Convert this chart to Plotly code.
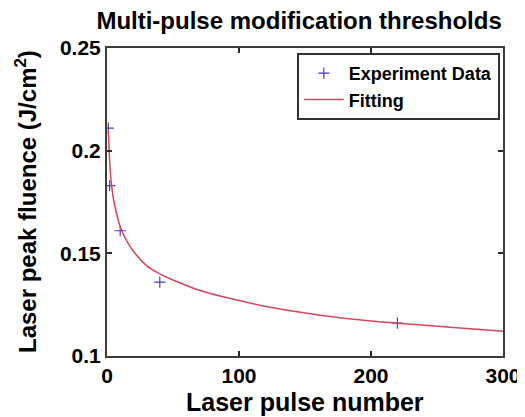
import plotly.graph_objects as go

# experiment data
pulse_n = [1, 2, 10, 40, 220]
fluence = [0.211, 0.183, 0.161, 0.136, 0.116]

# fitted curve, points
fit_n = [1, 2, 3, 5, 7, 10, 15, 20, 30, 40, 50, 70, 100, 130, 160, 200, 250, 300]
fit_f = [0.210, 0.195, 0.186, 0.176, 0.170, 0.163, 0.156, 0.151, 0.144, 0.140,
         0.137, 0.132, 0.127, 0.123, 0.120, 0.117, 0.1145, 0.112]

x_ticks = [0, 100, 200, 300]
y_ticks = [0.1, 0.15, 0.2, 0.25]

FONT = "Liberation Sans, Arial, sans-serif"

# the page body adds an 8px margin, so the figure is sized 8px smaller
W, H = 517, 409
ML, MR, MT, MB = 99, 22, 40, 61
plot_w = W - ML - MR
plot_h = H - MT - MB

fig = go.Figure()
fig.add_trace(go.Scatter(
    x=pulse_n, y=fluence, mode="markers", name="Experiment Data",
    marker=dict(symbol="cross-thin", size=8, color="rgb(70,60,200)",
                line=dict(color="rgb(70,60,200)", width=1.2)),
))
fig.add_trace(go.Scatter(
    x=fit_n, y=fit_f, mode="lines", name="Fitting",
    line=dict(color="rgb(215,70,90)", width=1.5, shape="spline", smoothing=1),
))

axis_common = dict(
    showline=True, linecolor="rgb(60,60,60)", linewidth=2, mirror="ticks",
    ticks="inside", ticklen=5, tickwidth=1.5, tickcolor="rgb(40,40,40)",
    showgrid=False, zeroline=False, automargin=False,
    tickfont=dict(family=FONT, size=21, color="black", weight="bold"),
)

fig.update_layout(
    width=W, height=H,
    margin=dict(l=ML, r=MR, t=MT, b=MB),
    paper_bgcolor="white", plot_bgcolor="white",
    title=dict(text="<b>Multi-pulse modification thresholds</b>",
               x=0.563, xanchor="center", y=1 - 13 / H, yanchor="middle",
               font=dict(family=FONT, size=24, color="black")),
    xaxis=dict(range=[0, 300], tickvals=x_ticks, **axis_common),
    yaxis=dict(range=[0.1, 0.25], tickvals=y_ticks, **axis_common),
    legend=dict(x=0.992, xanchor="right", y=0.984, yanchor="top",
                bgcolor="white", bordercolor="rgb(50,50,50)", borderwidth=2,
                font=dict(family=FONT, size=18, color="black", weight="bold"),
                tracegroupgap=0, itemwidth=40),
    showlegend=True,
)

# axis titles as annotations so they can sit as close as in the reference
fig.add_annotation(
    text="<b>Laser pulse number</b>", xref="paper", yref="paper",
    x=0.5, y=-46 / plot_h, xanchor="center", yanchor="middle", showarrow=False,
    font=dict(family=FONT, size=25, color="black"),
)
fig.add_annotation(
    text="<b>Laser peak fluence (J/cm<sup>2</sup>)</b>", xref="paper", yref="paper",
    x=-81 / plot_w, y=0.5, xanchor="center", yanchor="middle", textangle=-90,
    showarrow=False, font=dict(family=FONT, size=24, color="black"),
)

fig.write_html("out.html")
